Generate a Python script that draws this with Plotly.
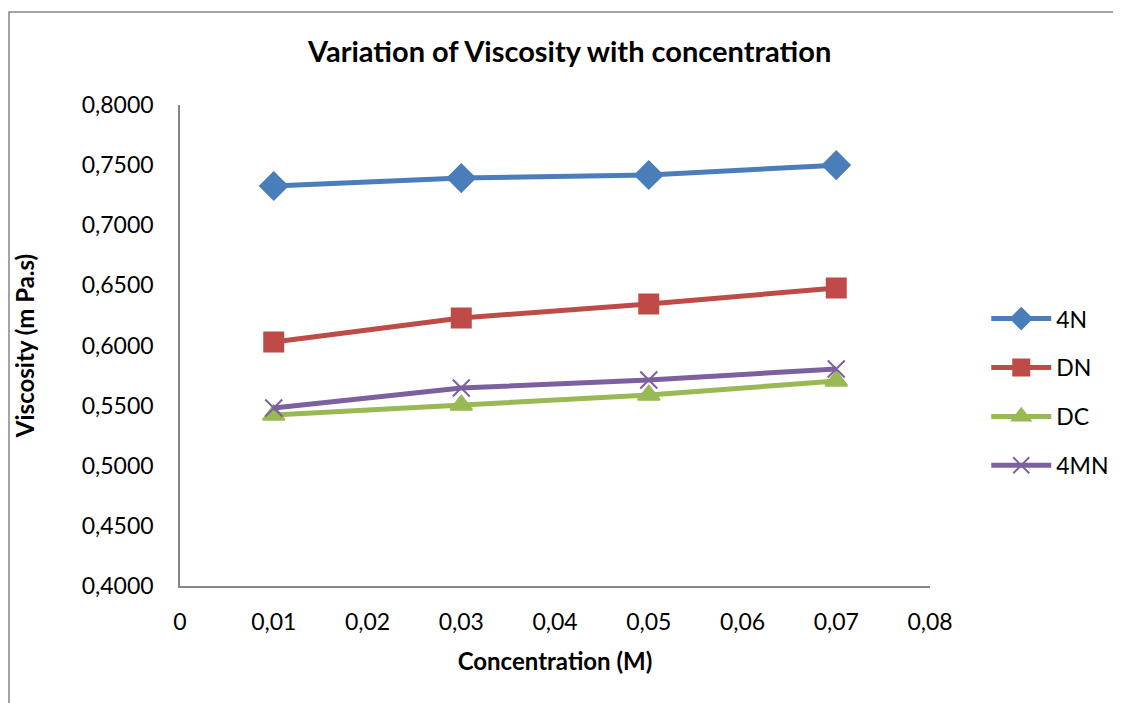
import plotly.graph_objects as go

# concentration (M)
concentration = [0.01, 0.03, 0.05, 0.07]

# viscosity (m Pa.s) per compound
visc_4n = [0.7326, 0.7392, 0.7418, 0.7500]
visc_dn = [0.6029, 0.6229, 0.6345, 0.6478]
visc_dc = [0.5422, 0.5505, 0.5588, 0.5705]
visc_4mn = [0.5480, 0.5647, 0.5713, 0.5805]

x_tickvals = [0, 0.01, 0.02, 0.03, 0.04, 0.05, 0.06, 0.07, 0.08]
x_ticktext = ["0", "0,01", "0,02", "0,03", "0,04", "0,05", "0,06", "0,07", "0,08"]
y_tickvals = [0.40, 0.45, 0.50, 0.55, 0.60, 0.65, 0.70, 0.75, 0.80]
y_ticktext = ["0,4000", "0,4500", "0,5000", "0,5500", "0,6000",
              "0,6500", "0,7000", "0,7500", "0,8000"]

series = [
    ("4N", visc_4n, "#4A7EBB", "diamond", 21),
    ("DN", visc_dn, "#BE4B48", "square", 19),
    ("DC", visc_dc, "#98B954", "triangle-up", 19),
    ("4MN", visc_4mn, "#7D60A0", "x-thin", 17),
]

FONT = "Lato, 'Open Sans', sans-serif"

fig = go.Figure()
for name, vals, color, symbol, size in series:
    fig.add_trace(go.Scatter(
        x=concentration, y=vals, name=name, legendgroup=name,
        mode="lines+markers",
        line=dict(color=color, width=5),
        marker=dict(symbol=symbol, size=size, color=color,
                    line=dict(color=color, width=2)),
    ))

# outer chart frame (left and top edges visible)
fig.add_shape(type="rect", xref="paper", yref="paper",
              x0=-0.228, x1=1.4, y0=-0.4, y1=1.1934,
              line=dict(color="#868686", width=1.5), layer="below")

fig.update_layout(
    width=1121, height=703,
    paper_bgcolor="white", plot_bgcolor="white",
    margin=dict(l=172, r=199, t=97, b=125),
    font=dict(family=FONT, size=23, color="black"),
    title=dict(text="<b>Variation of Viscosity with concentration</b>",
               x=0.501, xanchor="center", y=0.937, yanchor="middle",
               font=dict(size=29, family=FONT)),
    xaxis=dict(
        range=[0, 0.08], tickvals=x_tickvals, ticktext=x_ticktext,
        showgrid=False, zeroline=False, showline=True,
        linecolor="#868686", linewidth=1.5, ticks="", ticklabelstandoff=15,
        title=dict(text="<b>Concentration (M)</b>", font=dict(size=24), standoff=19),
    ),
    yaxis=dict(
        range=[0.40, 0.80], tickvals=y_tickvals, ticktext=y_ticktext,
        showgrid=False, zeroline=False, showline=True,
        linecolor="#868686", linewidth=1.5, ticks="", ticklabelstandoff=20,
        title=dict(text="<b>Viscosity (m Pa.s)</b>", font=dict(size=24), standoff=40),
    ),
    legend=dict(x=1.075, xanchor="left", y=0.403, yanchor="middle",
                tracegroupgap=16, itemwidth=60, font=dict(size=23)),
    showlegend=True,
)

fig.write_html("out.html")
